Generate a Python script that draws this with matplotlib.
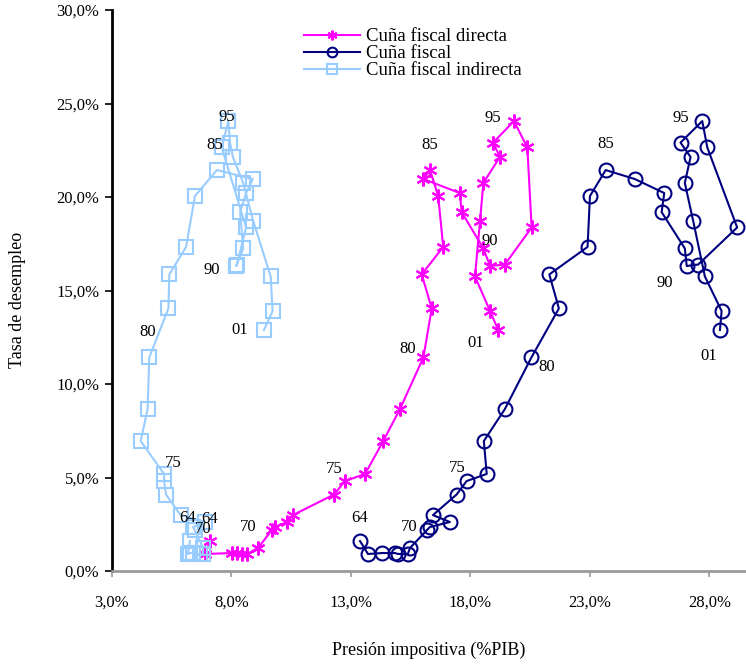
import matplotlib
matplotlib.use('Agg')
import matplotlib.pyplot as plt
from matplotlib.ticker import FuncFormatter, MultipleLocator

plt.rcParams['font.family'] = ['Liberation Serif', 'DejaVu Serif']

# years 1964-2001, shown as two digits
years = ['64', '65', '66', '67', '68', '69', '70', '71', '72', '73', '74',
         '75', '76', '77', '78', '79', '80', '81', '82', '83', '84',
         '85', '86', '87', '88', '89', '90', '91', '92', '93', '94',
         '95', '96', '97', '98', '99', '00', '01']

# tasa de desempleo (%)
desempleo = [1.60, 0.91, 0.96, 0.96, 0.91, 0.91, 1.23, 2.19, 2.35, 2.62, 2.99,
             4.09, 4.81, 5.19, 6.95, 8.66, 11.42, 14.04, 15.86, 17.33, 20.05,
             21.44, 20.96, 20.21, 19.19, 17.25, 16.31, 16.39, 18.37, 22.65, 24.06,
             22.91, 22.14, 20.75, 18.72, 15.75, 13.90, 12.89]

# presion impositiva (% PIB)
cuna_directa = [7.10, 6.89, 8.02, 8.23, 8.44, 8.65, 9.11, 9.69, 9.82, 10.32, 10.57,
                12.29, 12.75, 13.59, 14.35, 15.05, 16.03, 16.38, 15.96, 16.86, 16.65,
                16.31, 16.03, 17.56, 17.63, 18.54, 18.82, 19.44, 20.56, 20.38, 19.82,
                18.95, 19.23, 18.54, 18.40, 18.19, 18.82, 19.16]

cuna_fiscal = [13.38, 13.71, 14.30, 14.84, 14.97, 15.38, 15.47, 16.18, 16.30, 17.14, 16.43,
               17.42, 17.84, 18.68, 18.56, 19.44, 20.55, 21.70, 21.30, 22.90, 23.00,
               23.66, 24.88, 26.11, 26.00, 26.97, 27.05, 27.53, 29.16, 27.91, 27.70,
               26.79, 27.21, 26.97, 27.32, 27.81, 28.51, 28.44]

cuna_indirecta = [6.26, 6.18, 6.26, 6.39, 6.68, 6.81, 6.81, 6.47, 6.39, 6.89, 5.87,
                  5.26, 5.18, 5.18, 4.20, 4.49, 4.56, 5.36, 5.40, 6.10, 6.47,
                  7.39, 8.89, 8.61, 8.36, 8.49, 8.19, 8.23, 8.61, 7.59, 7.87,
                  7.94, 8.06, 8.49, 8.91, 9.64, 9.72, 9.36]

x_ticks = [3, 8, 13, 18, 23, 28]

labelled = ['64', '70', '75', '80', '85', '90', '95', '01']

# where each year label sits relative to its point (pixels, right / down)
offs_directa = {'64': (0, -22), '70': (-10, -21), '75': (0, -26), '80': (-16, -8),
                '85': (0, -25), '90': (0, -25), '95': (0, -25), '01': (-22, 13)}
offs_fiscal = {'64': (0, -23), '70': (-1, -21), '75': (1, -27), '80': (15, 10),
               '85': (0, -26), '90': (-22, 17), '95': (0, -25), '01': (-11, 26)}
offs_indirecta = {'64': (-2, -23), '70': (0, -19), '75': (7, -32), '80': (-2, -25),
                  '85': (-2, -25), '90': (-24, 4), '95': (-3, -26), '01': (-24, 0)}

series = [
    ('Cuña fiscal directa', cuna_directa, '#FF00FF', (6, 2, 0), offs_directa),
    ('Cuña fiscal', cuna_fiscal, '#000080', 'o', offs_fiscal),
    ('Cuña fiscal indirecta', cuna_indirecta, '#99CCFF', 's', offs_indirecta),
]

fig = plt.figure(figsize=(7.46, 6.64), dpi=100)
ax = fig.add_axes([112 / 746, 1 - 571 / 664, 1 - 112 / 746, 561 / 664])

for name, xs, col, mk, offs in series:
    ax.plot(xs, desempleo, color=col, lw=1.5, marker=mk, ms=10,
            mfc='none', mec=col, mew=1.5, label=name)
    for yr in labelled:
        i = years.index(yr)
        dx, dy = offs[yr]
        ax.annotate(yr, (xs[i], desempleo[i]), xytext=(dx, -dy),
                    textcoords='offset pixels', ha='center', va='center',
                    fontsize=12, color='black')

ax.set_xlim(3, 29.53)
ax.set_ylim(0, 30)
ax.set_xticks(x_ticks)
ax.yaxis.set_major_locator(MultipleLocator(5))
pct = FuncFormatter(lambda v, p: ('%.1f%%' % v).replace('.', ','))
ax.xaxis.set_major_formatter(pct)
ax.yaxis.set_major_formatter(pct)

for s in ['top', 'right']:
    ax.spines[s].set_visible(False)
ax.spines['left'].set_linewidth(2)
ax.spines['left'].set_color('black')
ax.spines['bottom'].set_linewidth(2)
ax.spines['bottom'].set_color('#9a9a9a')
ax.tick_params(axis='y', direction='out', length=5, width=1.2, colors='black',
               labelsize=12, pad=4)
ax.tick_params(axis='x', direction='out', length=4, width=1.2, color='#9a9a9a',
               labelcolor='black', labelsize=12, pad=13)

leg = ax.legend(loc='upper left', bbox_to_anchor=(304 / 746, 1 - 28 / 664),
                bbox_transform=fig.transFigure, frameon=False, fontsize=13.5,
                handlelength=3.0, handletextpad=0.3, labelspacing=0.0,
                borderpad=0, borderaxespad=0, markerscale=0.7)

fig.text(18 / 746, 1 - 300 / 664, 'Tasa de desempleo', rotation=90,
         ha='center', va='center', fontsize=13)
fig.text(429 / 746, 1 - 650 / 664, 'Presión impositiva (%PIB)',
         ha='center', va='center', fontsize=13)

fig.savefig('out.png', dpi=100)
